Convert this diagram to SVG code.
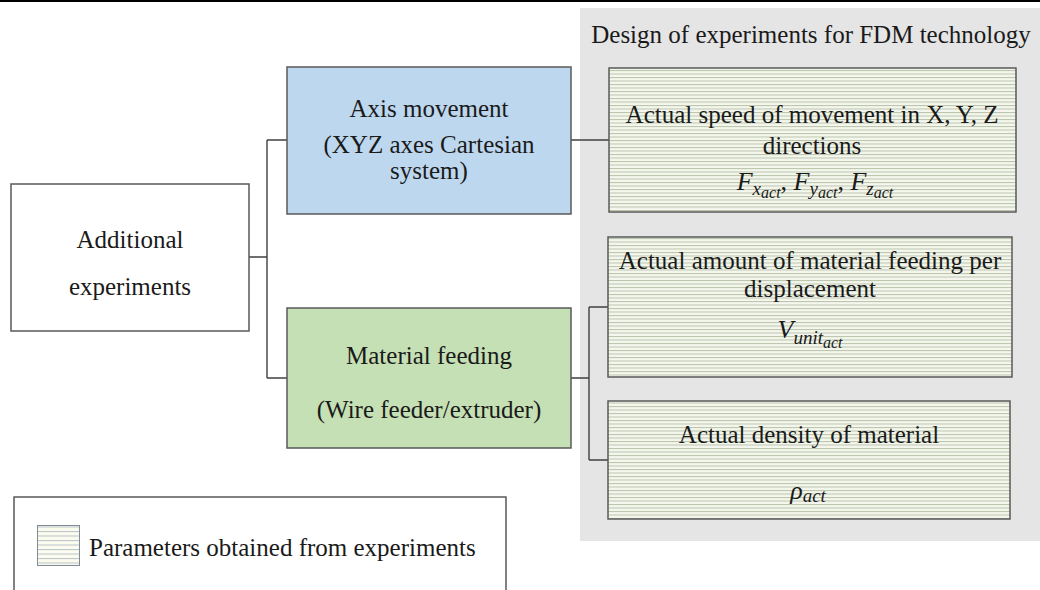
<svg xmlns="http://www.w3.org/2000/svg" width="1040" height="590" viewBox="0 0 1040 590">
  <defs>
    <!-- fine horizontal ruling used for measured-parameter boxes -->
    <pattern id="ruled" width="8" height="3.5" patternUnits="userSpaceOnUse">
      <rect width="8" height="3.5" fill="#f5f7ee"/>
      <rect y="0" width="8" height="1" fill="#b8c4aa"/>
    </pattern>
    <pattern id="ruledKey" width="8" height="4.5" patternUnits="userSpaceOnUse">
      <rect width="8" height="4.5" fill="#fbfbee"/>
      <rect y="0" width="8" height="1" fill="#b9c3c9"/>
    </pattern>
    <style>
      .txt { font-family: "Liberation Serif", "Times New Roman", serif; font-size: 25px; fill: #1a1a1a; text-anchor: middle; }
      .math { font-family: "Liberation Serif", "Times New Roman", serif; font-style: italic; fill: #1a1a1a; text-anchor: middle; }
      .box { stroke: #595959; stroke-width: 1.5; }
      .plain { fill: #ffffff; }
      .blue { fill: #bdd7ee; }
      .green { fill: #c5e0b4; }
      .ruled { fill: url(#ruled); }
      .conn { fill: none; stroke: #404040; stroke-width: 1.4; }
    </style>
  </defs>

  <rect width="1040" height="590" fill="#ffffff"/>
  <!-- page rule at the top -->
  <rect x="0" y="0" width="1040" height="2" fill="#000000"/>

  <!-- grey panel holding the FDM experiment design -->
  <g id="fdm-panel">
    <rect x="580" y="8" width="460" height="533" fill="#e5e5e5"/>
    <text class="txt" x="811" y="43">Design of experiments for FDM technology</text>
  </g>

  <!-- connectors -->
  <g id="connectors">
    <path class="conn" d="M249,257 H267 M267,140 V378 M267,140 H287 M267,378 H287"/>
    <path class="conn" d="M571,140 H609"/>
    <path class="conn" d="M571,378 H589 M589,307 V460 M589,307 H608 M589,460 H608"/>
  </g>

  <g id="additional-experiments">
    <rect class="box plain" x="11" y="184" width="238" height="147"/>
    <text class="txt" x="130" y="248">Additional</text>
    <text class="txt" x="130" y="295">experiments</text>
  </g>

  <g id="axis-movement">
    <rect class="box blue" x="287" y="67" width="284" height="147"/>
    <text class="txt" x="429" y="117">Axis movement</text>
    <text class="txt" x="429" y="153">(XYZ axes Cartesian</text>
    <text class="txt" x="429" y="179">system)</text>
  </g>

  <g id="material-feeding">
    <rect class="box green" x="287" y="308" width="284" height="140"/>
    <text class="txt" x="429" y="364">Material feeding</text>
    <text class="txt" x="429" y="418">(Wire feeder/extruder)</text>
  </g>

  <g id="actual-speed">
    <rect class="box ruled" x="609" y="68" width="407" height="144"/>
    <text class="txt" x="812" y="123">Actual speed of movement in X, Y, Z</text>
    <text class="txt" x="812" y="154">directions</text>
    <text class="math" x="815" y="190" font-size="26">F<tspan font-size="19" dy="5">x</tspan><tspan font-size="16" dy="3">act</tspan><tspan font-size="26" dy="-8" font-style="normal">, </tspan>F<tspan font-size="19" dy="5">y</tspan><tspan font-size="16" dy="3">act</tspan><tspan font-size="26" dy="-8" font-style="normal">, </tspan>F<tspan font-size="19" dy="5">z</tspan><tspan font-size="16" dy="3">act</tspan></text>
  </g>

  <g id="actual-feed">
    <rect class="box ruled" x="608" y="237" width="404" height="140"/>
    <text class="txt" x="810" y="269">Actual amount of material feeding per</text>
    <text class="txt" x="810" y="297">displacement</text>
    <text class="math" x="810" y="338" font-size="26">V<tspan font-size="19" dy="6">unit</tspan><tspan font-size="16" dy="4">act</tspan></text>
  </g>

  <g id="actual-density">
    <rect class="box ruled" x="608" y="401" width="402" height="118"/>
    <text class="txt" x="809" y="443">Actual density of material</text>
    <text class="math" x="808" y="499" font-size="26">ρ<tspan font-size="19" dy="3">act</tspan></text>
  </g>

  <!-- key -->
  <g id="legend">
    <rect x="14" y="497" width="492" height="100" fill="#ffffff" stroke="#595959" stroke-width="1.5"/>
    <rect x="37.5" y="525.5" width="42" height="40" fill="url(#ruledKey)" stroke="#7f8b96" stroke-width="1"/>
    <text class="txt" x="89" y="556" style="text-anchor:start">Parameters obtained from experiments</text>
  </g>
</svg>
